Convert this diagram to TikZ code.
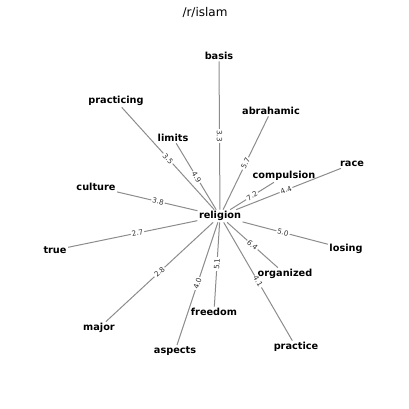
\documentclass[tikz,border=0pt]{standalone}
\usepackage{fontspec}
\setmainfont{DejaVu Sans}
\begin{document}
\begin{tikzpicture}[x=0.75pt,y=-0.75pt,
  word/.style={font=\fontsize{7.3}{8}\selectfont\bfseries, inner sep=1pt, text=black},
  edgeline/.style={draw=black!45, line width=0.75pt},
  elab/.style={font=\fontsize{5.4}{6}\selectfont, fill=white, inner sep=0.8pt, text=black!80, sloped, midway}]
\useasboundingbox (0,0) rectangle (408,409);
\node[font=\fontsize{9}{11}\selectfont] (title) at (205,13) {/r/islam};
\node[word] (religion) at (220,216) {religion};
\node[word] (basis) at (219,56) {basis};
\node[word] (abrahamic) at (271,111) {abrahamic};
\node[word] (practicing) at (116,101) {practicing};
\node[word] (limits) at (173,138) {limits};
\node[word] (compulsion) at (284,176) {compulsion};
\node[word] (race) at (352,164) {race};
\node[word] (culture) at (96,187) {culture};
\node[word] (true) at (55,250) {true};
\node[word] (losing) at (346,249) {losing};
\node[word] (organized) at (285,274) {organized};
\node[word] (practice) at (296,347) {practice};
\node[word] (freedom) at (214,312) {freedom};
\node[word] (aspects) at (175,351) {aspects};
\node[word] (major) at (99,328) {major};
\foreach \n/\w in {basis/3.3, abrahamic/5.7, practicing/3.5, limits/4.9, compulsion/7.2, race/4.4, culture/3.8, true/2.7, losing/5.0, organized/6.4, practice/4.1, freedom/5.1, aspects/4.0, major/2.8} {
  \draw[edgeline] (religion) -- (\n);
  \path (religion.center) -- node[elab] {\w} (\n.center);
}
\end{tikzpicture}
\end{document}
